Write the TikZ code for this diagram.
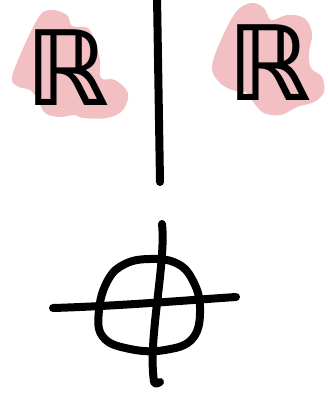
\documentclass[tikz,border=0pt]{standalone}
\usepackage{fontspec}
\newfontfamily\realfont{DejaVu Sans}[BoldFont={DejaVu Sans Bold}]
\definecolor{blob-pink}{RGB}{242,192,194}
\usetikzlibrary{positioning}

\begin{document}
\begin{tikzpicture}[x=1pt,y=-1pt,
    stroke/.style={line width=8, line cap=round, line join=round},
    blob/.style={fill=blob-pink, draw=none}]
    \useasboundingbox (0,0) rectangle (328,393);
    % pink blobs behind the two letters
    \fill[blob] plot[smooth cycle, tension=0.6] coordinates {
        (13,73) (37,20) (50,10) (67,15) (72,26) (88,28) (95,43) (100,60)
        (101,78) (115,80) (128,93) (123,110) (107,118) (83,118) (75,115)
        (60,117) (45,113) (38,100) (30,90) (17,86)};
    \fill[blob] plot[smooth cycle, tension=0.6] coordinates {
        (212,67) (221,40) (236,12) (251,3) (264,8) (271,20) (287,15) (304,18)
        (312,33) (309,53) (311,68) (322,77) (324,92) (314,102) (297,107)
        (281,115) (264,113) (254,103) (247,93) (232,90) (219,82)};
    \node (lreal) at (67,68) {\fontsize{104}{104}\realfont\bfseries ℝ};
    \node (rreal) at (269,63) {\fontsize{104}{104}\realfont\bfseries ℝ};
    % dividing line
    \coordinate (wtop) at (157,-4);
    \coordinate (wbot) at (160,182);
    \draw[stroke] (wtop) -- (wbot);
    % crossed circle
    \coordinate (vtop) at (162,224);
    \coordinate (vbot) at (160,382);
    \coordinate (hleft) at (53,308);
    \coordinate (hright) at (236,297);
    \draw[stroke] plot[smooth cycle, tension=0.7] coordinates {
        (150,259) (176,263) (192,279) (200,307) (193,338) (165,350)
        (130,349) (103,337) (99,310) (108,280) (125,264)};
    \draw[stroke] (vtop) .. controls (166,260) and (150,330) .. (153,372)
        .. controls (154,385) .. (vbot);
    \draw[stroke] (hleft) .. controls (120,306) and (190,300) .. (hright);
\end{tikzpicture}
\end{document}
